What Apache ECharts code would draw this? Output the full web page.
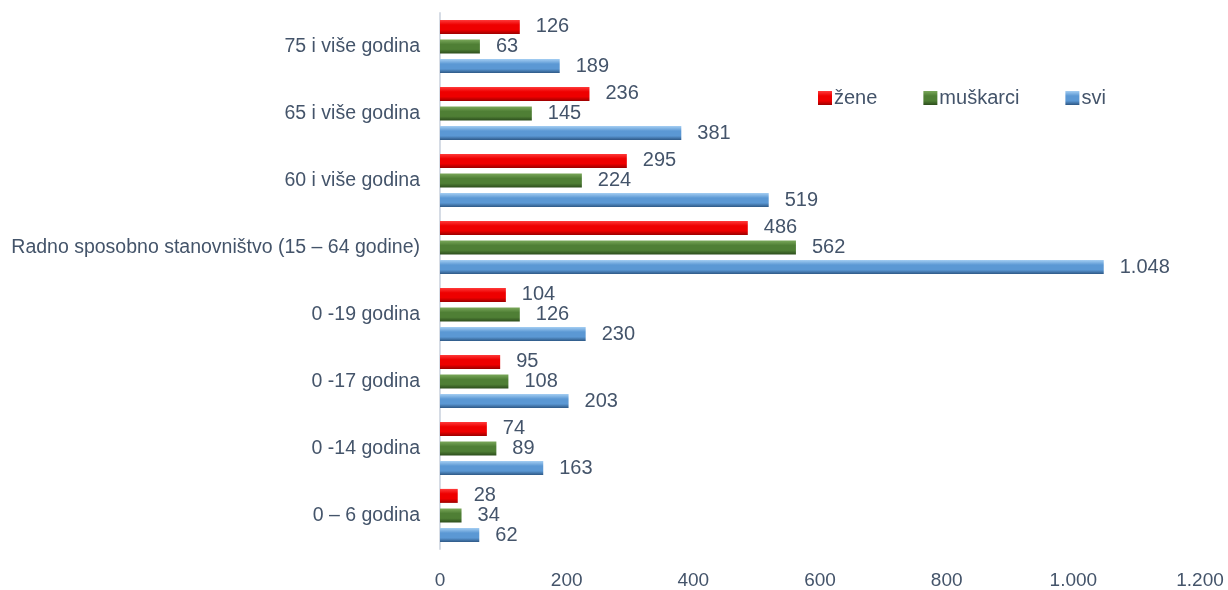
<!DOCTYPE html>
<html>
<head>
<meta charset="utf-8">
<script src="https://cdn.jsdelivr.net/npm/echarts@6/dist/echarts.min.js"></script>
<style>
html,body{margin:0;padding:0;background:#fff;}
#c{width:1228px;height:590px;}
</style>
</head>
<body>
<div id="c"></div>
<script>
var categories = ["0 – 6 godina", "0 -14 godina", "0 -17 godina", "0 -19 godina", "Radno sposobno stanovništvo (15 – 64 godine)", "60 i više godina", "65 i više godina", "75 i više godina"];
var zene = [28, 74, 95, 104, 486, 295, 236, 126];
var muskarci = [34, 89, 108, 126, 562, 224, 145, 63];
var svi = [62, 163, 203, 230, 1048, 519, 381, 189];
var xTicks = [0, 200, 400, 600, 800, 1000, 1200];

var FONT = '"Liberation Sans Narrow", "Arial Narrow", "Liberation Sans", sans-serif';
var TXT = '#44546a';

function fmt(v) {
  return String(v).replace(/\B(?=(\d{3})+(?!\d))/g, '.');
}
function grad(top, mid, bot) {
  return new echarts.graphic.LinearGradient(0, 0, 0, 1, [
    {offset: 0, color: top}, {offset: 0.35, color: mid}, {offset: 0.7, color: mid}, {offset: 1, color: bot}
  ]);
}
var redC = grad('#ff3b3b', '#ee0000', '#9e0000');
var greenC = grad('#7aa85a', '#4f7f35', '#2c4d1c');
var blueC = grad('#a3cdf2', '#5b98d4', '#2d5784');

function mk(name, data, color) {
  return {
    name: name, type: 'bar', data: data, barWidth: 14, barGap: '40%',
    itemStyle: {color: color},
    label: {show: true, position: 'right', distance: 16, color: TXT, fontFamily: FONT, fontSize: 20,
      formatter: function (p) { return fmt(p.value); }}
  };
}

var chart = echarts.init(document.getElementById('c'));
chart.setOption({
  animation: false,
  backgroundColor: '#fff',
  grid: {left: 440, right: 28, top: 13, bottom: 35, containLabel: false},
  legend: {
    data: ['žene', 'muškarci', 'svi'],
    left: 813, top: 83, itemWidth: 14, itemHeight: 14, itemGap: 46, icon: 'rect',
    textStyle: {color: TXT, fontFamily: FONT, fontSize: 20, padding: [0, 0, 0, -3]}
  },
  xAxis: {
    type: 'value', min: 0, max: 1200, interval: 200,
    axisLine: {show: false}, axisTick: {show: false}, splitLine: {show: false},
    axisLabel: {color: TXT, fontFamily: FONT, fontSize: 19, margin: 22, formatter: function (v) { return fmt(v); }}
  },
  yAxis: {
    type: 'category', data: categories,
    axisLine: {show: true, lineStyle: {color: '#d6dce5', width: 2}}, axisTick: {show: false},
    axisLabel: {color: TXT, fontFamily: FONT, fontSize: 19.5, margin: 20}
  },
  series: [
    mk('žene', zene, redC),
    mk('muškarci', muskarci, greenC),
    mk('svi', svi, blueC)
  ]
});
</script>
</body>
</html>
